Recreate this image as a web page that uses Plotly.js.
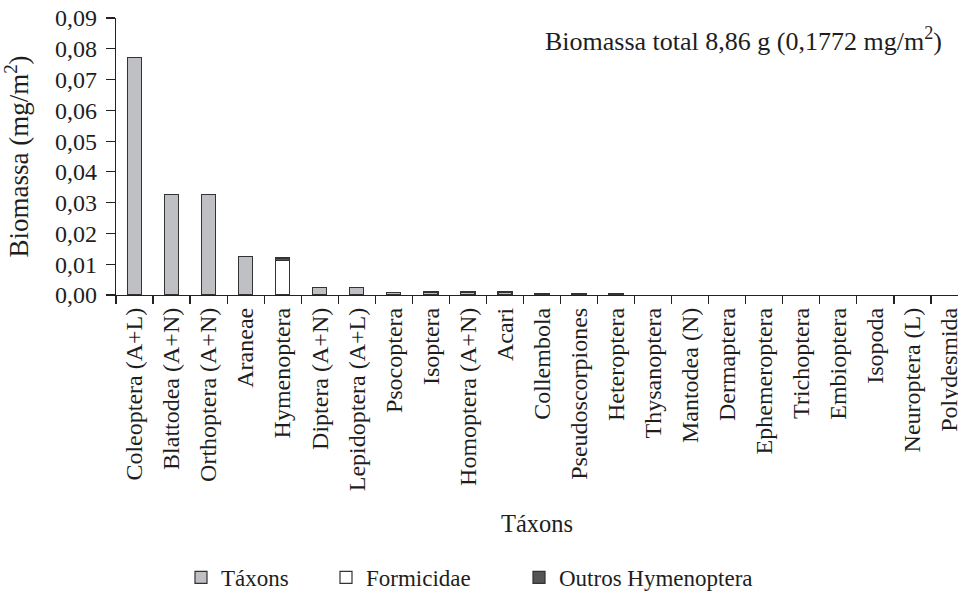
<!DOCTYPE html>
<html>
<head>
<meta charset="utf-8">
<script src="https://cdn.plot.ly/plotly-3.0.1.min.js"></script>
<style>html,body{margin:0;padding:0;background:#fff;}#chart{width:958px;height:599px;}</style>
</head>
<body>
<div id="chart"></div>
<script>
const categories = ["Coleoptera (A+L)","Blattodea (A+N)","Orthoptera (A+N)","Araneae","Hymenoptera","Diptera (A+N)","Lepidoptera (A+L)","Psocoptera","Isoptera","Homoptera (A+N)","Acari","Collembola","Pseudoscorpiones","Heteroptera","Thysanoptera","Mantodea (N)","Dermaptera","Ephemeroptera","Trichoptera","Embioptera","Isopoda","Neuroptera (L)","Polydesmida"];
const taxonsValues = [0.0771,0.0327,0.0327,0.0124,null,0.0025,0.0025,0.0009,0.0010,0.0010,0.0010,0.0005,0.0005,0.0005,0,0,0,0,0,0,0,0,0];
const formicidaeValues = [null,null,null,null,0.0113,null,null,null,null,null,null,null,null,null,null,null,null,null,null,null,null,null,null];
const outrosValues = [null,null,null,null,0.0007,null,null,null,null,null,null,null,null,null,null,null,null,null,null,null,null,null,null];
const yTicks = [0,0.01,0.02,0.03,0.04,0.05,0.06,0.07,0.08,0.09];

const FONT = "Liberation Serif, Times New Roman, serif";
const lineCol = "#333333";
const txt = "#1e1e1e";

function lineWidths(vals){ return vals.map(v => (v ? 1.2 : 0)); }

const traces = [
  {type:"bar", name:"Táxons", x:categories, y:taxonsValues, legend:"legend",
   marker:{color:"#bfc0c4", line:{color:lineCol, width:lineWidths(taxonsValues)}}},
  {type:"bar", name:"Formicidae", x:categories, y:formicidaeValues, legend:"legend2",
   marker:{color:"#ffffff", line:{color:lineCol, width:1.2}}},
  {type:"bar", name:"Outros Hymenoptera", x:categories, y:outrosValues, legend:"legend3",
   marker:{color:"#555555", line:{color:lineCol, width:1.2}}}
];

const legBase = {orientation:"h", xref:"paper", yref:"paper", yanchor:"middle", xanchor:"left",
  font:{family:FONT, size:23, color:txt}, bgcolor:"rgba(0,0,0,0)", itemclick:false};
const legY = -(580-296)/278;

const layout = {
  width:958, height:599,
  margin:{l:116, r:0, t:18, b:303, pad:0},
  paper_bgcolor:"#fff", plot_bgcolor:"#fff",
  font:{family:FONT, size:24, color:txt},
  separators:",.",
  barmode:"stack",
  bargap:0.62,
  showlegend:true,
  xaxis:{
    type:"category",
    range:[-0.5, 22.23],
    tickangle:-90,
    ticks:"outside", tickson:"boundaries", ticklen:8, tickcolor:"#222", tickwidth:1.2,
    ticklabelstandoff:2,
    showline:true, linecolor:"#222", linewidth:1.2,
    showgrid:false, zeroline:false,
    tickfont:{family:FONT, size:24, color:txt},
    title:{text:"Táxons", font:{family:FONT, size:24.5, color:txt}, standoff:24},
    automargin:false
  },
  yaxis:{
    range:[0,0.09],
    tickvals:yTicks,
    tickformat:".2f",
    ticks:"outside", ticklen:9, tickcolor:"#222", tickwidth:1.2,
    ticklabelstandoff:4,
    showline:true, linecolor:"#222", linewidth:1.2,
    showgrid:false, zeroline:false,
    tickfont:{family:FONT, size:24, color:txt},
    title:{text:"Biomassa (mg/m<sup>2</sup>)", font:{family:FONT, size:27, color:txt}, standoff:19},
    automargin:false
  },
  legend: Object.assign({}, legBase, {x:(181-116)/842, y:legY}),
  legend2: Object.assign({}, legBase, {x:(326-116)/842, y:legY}),
  legend3: Object.assign({}, legBase, {x:(519-116)/842, y:legY}),
  annotations:[
    {text:"Biomassa total 8,86 g (0,1772 mg/m<sup>2</sup>)", xref:"paper", yref:"paper",
     x:(944-116)/842, y:(296-40)/278, xanchor:"right", yanchor:"middle", showarrow:false,
     font:{family:FONT, size:26, color:txt}}
  ]
};

Plotly.newPlot("chart", traces, layout, {displayModeBar:false, staticPlot:true});
</script>
</body>
</html>
